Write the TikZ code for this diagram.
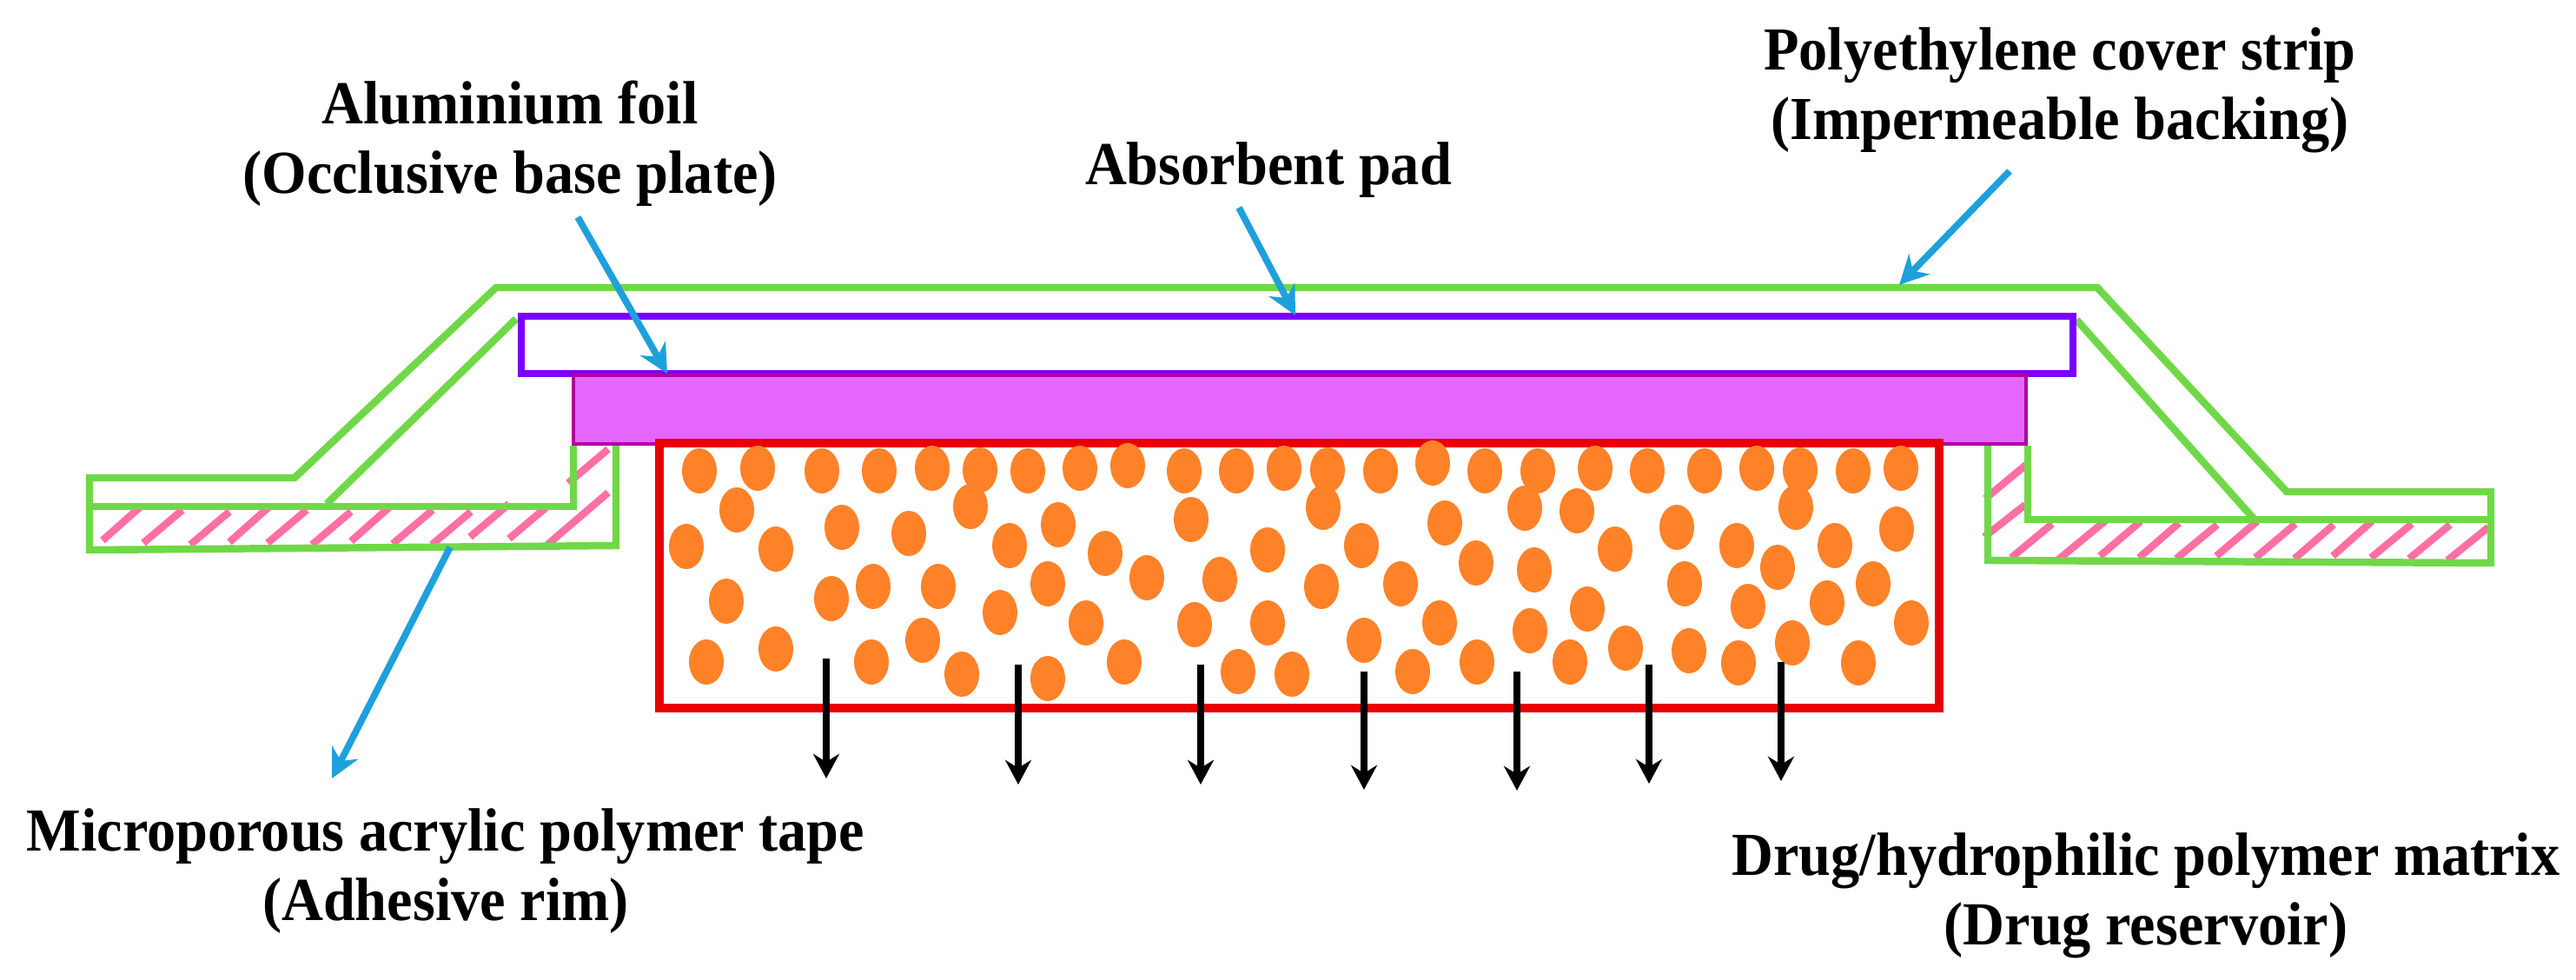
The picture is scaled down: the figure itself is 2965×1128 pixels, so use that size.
\documentclass[tikz,border=0pt]{standalone}
\usepackage{fontspec}
\setmainfont[FakeStretch=0.943]{Liberation Serif}
\usepackage{tikz}
\usetikzlibrary{arrows.meta}
\definecolor{stripgreen}{RGB}{112,216,72}
\definecolor{padviolet}{RGB}{122,0,255}
\definecolor{foilfill}{RGB}{229,102,255}
\definecolor{foilline}{RGB}{176,0,160}
\definecolor{matrixred}{RGB}{232,0,0}
\definecolor{drugorange}{RGB}{255,130,40}
\definecolor{tapepink}{RGB}{255,111,165}
\definecolor{leaderblue}{RGB}{30,160,220}
\begin{document}
\begin{tikzpicture}[x=0.01cm,y=-0.01cm,
      strip/.style = {draw=stripgreen, line width=2.4pt, line join=miter},
      hatchline/.style = {draw=tapepink, line width=2.4pt},
      drug/.style = {fill=drugorange},
      leader/.style = {draw=leaderblue, line width=2.2pt, -{Stealth[length=9.5pt,width=9.5pt]}},
      release/.style = {draw=black, line width=2.2pt, -{Stealth[length=8pt,width=8.5pt]}},
      caption/.style = {align=center, inner sep=0pt, anchor=base, font=\fontsize{20}{22.8}\selectfont\bfseries}]
    \useasboundingbox (0,0) rectangle (2965,1128);
    % adhesive rim
    \foreach \xa/\ya/\xb/\yb in {118/622/162/583,165/625/210/587,219/627/264/589,264/624/309/584,308/625/353/587,
        359/627/404/589,404/623/448/584,452/626/498/587,497/627/542/589,541/618/586/580,586/620/631/582,
        630/627/700/567,654/556/700/517,2315/642/2362/603,2368/645/2425/598,2417/640/2464/600,2462/642/2508/602,
        2505/643/2552/604,2551/640/2598/600,2596/642/2642/603,2641/643/2686/604,2685/640/2730/600,2729/642/2776/603,
        2773/643/2820/604,2817/645/2864/607,2284/618/2331/581,2285/574/2332/535}
        \draw[hatchline] (\xa,\ya) -- (\xb,\yb);
    % cover strip
    \draw[strip] (709,513) -- (709,628) -- (103,633) -- (103,550) -- (339,550) -- (571,331) -- (2414,331)
        -- (2632,566) -- (2867,566) -- (2867,648) -- (2288,645) -- (2288,507);
    \draw[strip] (660,513) -- (660,583) -- (103,583);
    \draw[strip] (2334,513) -- (2334,598) -- (2867,598);
    \draw[strip] (594,367) -- (376,580);
    \draw[strip] (2390,368) -- (2594,597);
    % pad, foil and reservoir
    \draw[draw=padviolet, line width=2.4pt] (600,364) rectangle (2386,430);
    \draw[draw=foilline, fill=foilfill, line width=1.4pt] (660,432) rectangle (2332,511);
    \draw[draw=matrixred, line width=2.8pt] (759,510) rectangle (2232,815);
    \foreach \x/\y in {805/542,872/539,946/542,1012/542,1073/539,1128/541,1183/542,1243/539,1298/536,1363/542,1423/542,1478/539,
        848/587,790/629,893/632,969/607,1046/614,1117/583,1162/628,1218/604,1272/637,1320/665,1371/598,1459/633,
        836/692,957/689,1005/675,1080/675,1206/672,1151/705,1250/717,1404/667,1375/719,1459/717,
        813/762,893/747,1003/762,1062/737,1107/776,1206/781,1294/762,1425/773,1487/776,
        1528/541,1589/542,1649/533,1709/542,1770/542,1836/539,1896/542,1962/542,2022/539,2072/541,2133/542,2188/539,
        1523/584,1663/602,1755/585,1815/588,1930/607,1999/628,2112/628,2183/609,2067/584,
        1567/628,1699/648,1766/656,1859/632,2046/653,2156/672,1939/672,2103/694,2012/698,
        1521/675,1612/672,1657/717,1827/701,1761/726,2200/717,
        1570/737,1626/773,1700/762,1807/762,1871/746,1944/749,2001/763,2063/740,2139/763}
        \fill[drug] (\x,\y) ellipse (20 and 26);
    % release arrows
    \foreach \name/\x/\ya/\yb in {rela/951/758/896,relb/1172/765/903,relc/1382/765/903,reld/1570/773/909,
        rele/1746/773/910,relf/1898/765/902,relg/2050/762/899} {
        \coordinate (\name top) at (\x,\ya);
        \coordinate (\name tip) at (\x,\yb);
        \draw[release] (\name top) -- (\name tip);
    }
    % leaders
    \coordinate (foilstart) at (665,250);
    \coordinate (foiltip) at (768,430);
    \coordinate (padstart) at (1426,239);
    \coordinate (padtip) at (1491,363);
    \coordinate (stripstart) at (2313,197);
    \coordinate (striptip) at (2186,328);
    \coordinate (tapestart) at (518,630);
    \coordinate (tapetip) at (382,896);
    \draw[leader] (foilstart) -- (foiltip);
    \draw[leader] (padstart) -- (padtip);
    \draw[leader] (stripstart) -- (striptip);
    \draw[leader] (tapestart) -- (tapetip);
    % labels
    \node[caption] (foillabel) at (587,223) {Aluminium foil\\(Occlusive base plate)};
    \node[caption] (padlabel) at (1460,213) {Absorbent pad};
    \node[caption] (striplabel) at (2371,161) {Polyethylene cover strip\\(Impermeable backing)};
    \node[caption] (tapelabel) at (513,1060) {Microporous acrylic polymer tape\\(Adhesive rim)};
    \node[caption] (reservoirlabel) at (2470,1088) {Drug/hydrophilic polymer matrix\\(Drug reservoir)};
\end{tikzpicture}
\end{document}
